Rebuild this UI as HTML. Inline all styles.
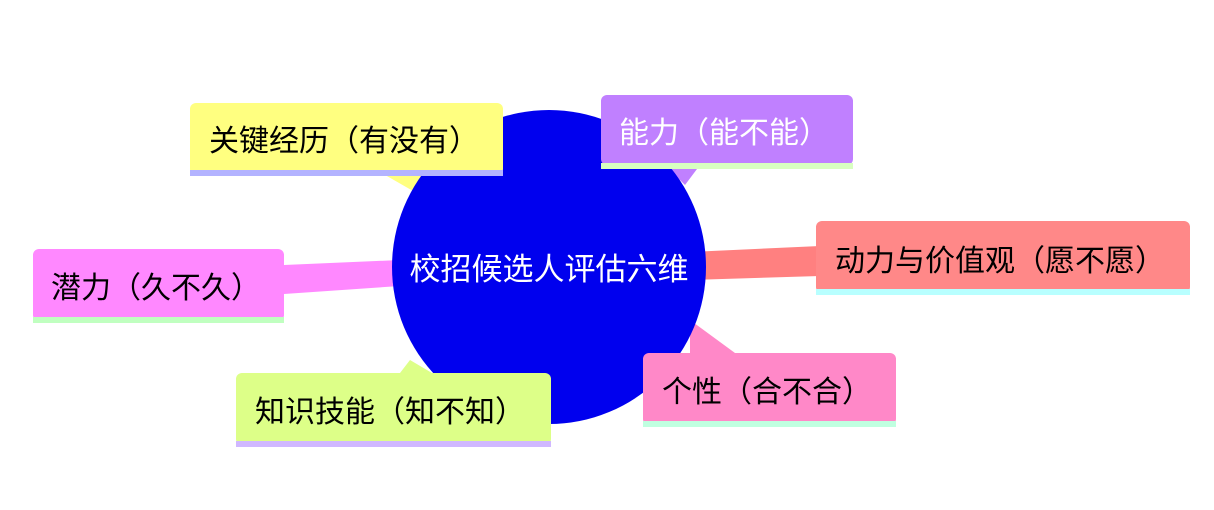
<!DOCTYPE html>
<html><head><meta charset="utf-8"><style>
html,body{margin:0;padding:0;background:#fff;width:1214px;height:510px;overflow:hidden}
text{font-family:"Liberation Sans","Noto Sans CJK SC",sans-serif;font-size:30px}
</style></head><body>
<svg width="1214" height="510" viewBox="0 0 1214 510">
<polygon points="380,172 440,172 420,195" fill="#ffff80"/>
<polygon points="665,165 700,165 685,185" fill="#c080ff"/>
<polygon points="690,252 820,246 820,276 690,280" fill="#ff8080"/>
<polygon points="690,320 735,353 690,353" fill="#ff88c8"/>
<polygon points="284,265 400,260 400,286 284,294" fill="#ff88ff"/>
<polygon points="410,360 432,373 400,373" fill="#ddff88"/>
<circle cx="549" cy="267" r="157" fill="#0000ee"/>
<text x="549" y="280" fill="#fff" text-anchor="middle" style="font-size:31px">校招候选人评估六维</text>
<rect x="190" y="103" width="313" height="72" rx="6" fill="#ffff80"/>
<rect x="190" y="170" width="313" height="6" fill="#b3b3ff"/>
<text x="209" y="151" fill="#000">关键经历（有没有）</text>
<rect x="601" y="95" width="252" height="70" rx="6" fill="#c080ff"/>
<rect x="601" y="163" width="252" height="6" fill="#d8ffc0"/>
<text x="619" y="143" fill="#fff">能力（能不能）</text>
<rect x="816" y="221" width="374" height="72" rx="6" fill="#ff8888"/>
<rect x="816" y="289" width="374" height="6" fill="#b8ffff"/>
<text x="835" y="271" fill="#000">动力与价值观（愿不愿）</text>
<rect x="643" y="353" width="253" height="72" rx="6" fill="#ff88c8"/>
<rect x="643" y="421" width="253" height="6" fill="#c0ffe0"/>
<text x="662" y="402" fill="#000">个性（合不合）</text>
<rect x="236" y="373" width="315" height="72" rx="6" fill="#ddff88"/>
<rect x="236" y="441" width="315" height="6" fill="#d0b8ff"/>
<text x="255" y="422" fill="#000">知识技能（知不知）</text>
<rect x="33" y="249" width="251" height="72" rx="6" fill="#ff88ff"/>
<rect x="33" y="317" width="251" height="6" fill="#c0ffc0"/>
<text x="51" y="298" fill="#000">潜力（久不久）</text>
</svg>
</body></html>
